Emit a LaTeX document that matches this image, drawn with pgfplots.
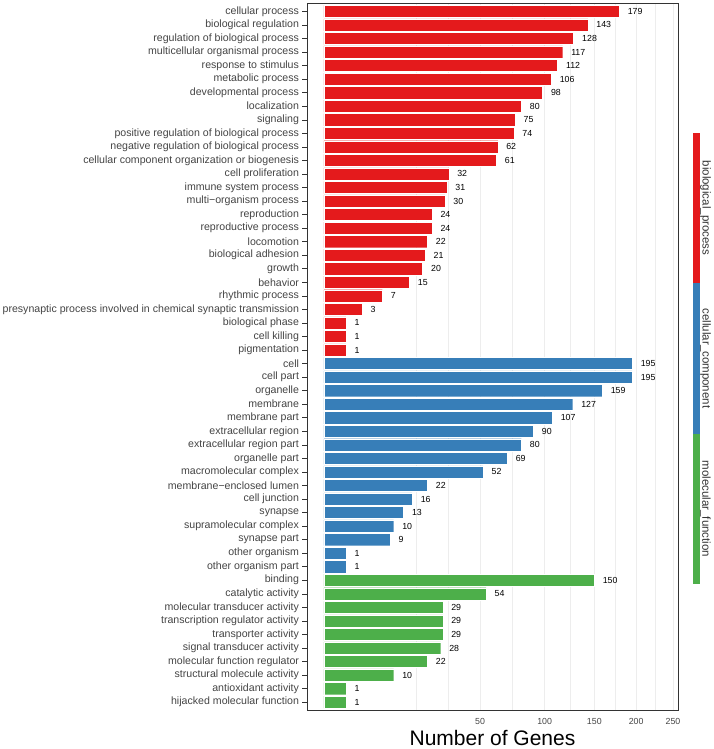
\documentclass[border=0pt]{standalone}
\usepackage{fontspec}
\setmainfont{Liberation Sans}
\usepackage{pgfplots}
\pgfplotsset{compat=1.18}
\definecolor{bpred}{HTML}{E41A1C}
\definecolor{ccblue}{HTML}{377EB8}
\definecolor{mfgreen}{HTML}{4DAF4A}
\definecolor{txtgray}{HTML}{444444}
\definecolor{framegray}{HTML}{333333}
\definecolor{gridgray}{HTML}{EDEDED}
\begin{document}
\begin{tikzpicture}[x=1pt,y=1pt]
\path[use as bounding box] (-307,-39) rectangle (406,710);
\begin{axis}[
  at={(0,0)}, anchor=south west,
  scale only axis, width=371pt, height=707pt,
  xbar, bar width=0.9, bar shift=0pt,
  y dir=reverse,
  ymin=-0.62, ymax=51.58,
  x coord trafo/.code={\pgfmathparse{(#1<0 ? -1 : 1)*sqrt(abs(#1))}},
  xmin=-0.586, xmax=257.2,
  xtick={50,100,150,200,250},
  xticklabels={50,100,150,200,250},
  minor xtick={17.3,31.7,72.8,124.2,173.8,224.8},
  xmajorgrids, xminorgrids,
  major grid style={gridgray, line width=0.5pt},
  minor grid style={gridgray, line width=0.4pt},
  x tick style={draw=none},
  minor x tick style={draw=none},
  ytick pos=left,
  ytick={0,...,51},
  yticklabels={cellular process,biological regulation,regulation of biological process,multicellular organismal process,response to stimulus,metabolic process,developmental process,localization,signaling,positive regulation of biological process,negative regulation of biological process,cellular component organization or biogenesis,cell proliferation,immune system process,multi−organism process,reproduction,reproductive process,locomotion,biological adhesion,growth,behavior,rhythmic process,presynaptic process involved in chemical synaptic transmission,biological phase,cell killing,pigmentation,cell,cell part,organelle,membrane,membrane part,extracellular region,extracellular region part,organelle part,macromolecular complex,membrane−enclosed lumen,cell junction,synapse,supramolecular complex,synapse part,other organism,other organism part,binding,catalytic activity,molecular transducer activity,transcription regulator activity,transporter activity,signal transducer activity,molecular function regulator,structural molecule activity,antioxidant activity,hijacked molecular function},
  tick align=outside,
  major tick length=4.5pt,
  y tick style={draw=framegray, line width=0.5pt},
  yticklabel style={font=\fontsize{10.6}{12}\selectfont, text=txtgray},
  xticklabel style={font=\fontsize{8.8}{10}\selectfont, text=txtgray},
  /pgf/number format/assume math mode=true,
  axis line style={framegray, line width=0.6pt},
  xlabel={Number of Genes},
  xlabel style={font=\fontsize{21}{24}\selectfont, text=black, at={(axis description cs:0.5,0)}, anchor=base, yshift=-35pt},
  point meta=explicit symbolic,
  nodes near coords,
  nodes near coords style={font=\fontsize{8.8}{10}\selectfont, text=black, anchor=west, xshift=5pt},
]
\addplot[fill=bpred, draw=white, line width=0.4pt] coordinates {
(179,0)[179] (143,1)[143] (128,2)[128] (117,3)[117] (112,4)[112] (106,5)[106]
(98,6)[98] (80,7)[80] (75,8)[75] (74,9)[74] (62,10)[62] (61,11)[61]
(32,12)[32] (31,13)[31] (30,14)[30] (24,15)[24] (24,16)[24] (22,17)[22]
(21,18)[21] (20,19)[20] (15,20)[15] (7,21)[7] (3,22)[3] (1,23)[1] (1,24)[1] (1,25)[1]
};
\addplot[fill=ccblue, draw=white, line width=0.4pt] coordinates {
(195,26)[195] (195,27)[195] (159,28)[159] (127,29)[127] (107,30)[107] (90,31)[90]
(80,32)[80] (69,33)[69] (52,34)[52] (22,35)[22] (16,36)[16] (13,37)[13]
(10,38)[10] (9,39)[9] (1,40)[1] (1,41)[1]
};
\addplot[fill=mfgreen, draw=white, line width=0.4pt] coordinates {
(150,42)[150] (54,43)[54] (29,44)[29] (29,45)[29] (29,46)[29] (28,47)[28]
(22,48)[22] (10,49)[10] (1,50)[1] (1,51)[1]
};
\end{axis}
\fill[bpred] (386.3,427) rectangle (393,577);
\fill[ccblue] (386.3,276) rectangle (393,427);
\fill[mfgreen] (386.3,126) rectangle (393,276);
\node[rotate=-90, font=\fontsize{11.5}{13}\selectfont, text=framegray] at (398.5,502) {biological\_process};
\node[rotate=-90, font=\fontsize{11.5}{13}\selectfont, text=framegray] at (398.5,351.5) {cellular\_component};
\node[rotate=-90, font=\fontsize{11.5}{13}\selectfont, text=framegray] at (398.5,201) {molecular\_function};
\end{tikzpicture}
\end{document}
